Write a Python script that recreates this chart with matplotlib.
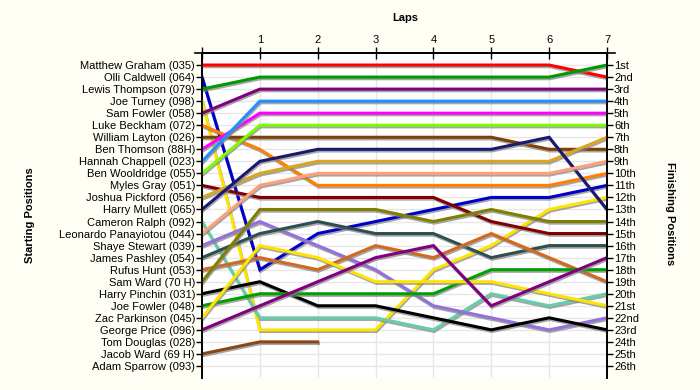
"""
Lap chart
=========
Race positions by lap, starting grid on the left, finishing order on the right.
"""

import matplotlib
matplotlib.use('Agg')
import matplotlib.pyplot as plt
import matplotlib.patheffects as pe

plt.rcParams['font.family'] = ['Liberation Sans', 'DejaVu Sans']
plt.rcParams['font.size'] = 8

###############################################################################
# Data: position of each driver at the end of each lap (lap 0 = grid)
laps = [0, 1, 2, 3, 4, 5, 6, 7]

drivers = ['Matthew Graham (035)', 'Olli Caldwell (064)', 'Lewis Thompson (079)',
           'Joe Turney (098)', 'Sam Fowler (058)', 'Luke Beckham (072)',
           'William Layton (026)', 'Ben Thomson (88H)', 'Hannah Chappell (023)',
           'Ben Wooldridge (055)', 'Myles Gray (051)', 'Joshua Pickford (056)',
           'Harry Mullett (065)', 'Cameron Ralph (092)', 'Leonardo Panayiotou (044)',
           'Shaye Stewart (039)', 'James Pashley (054)', 'Rufus Hunt (053)',
           'Sam Ward (70 H)', 'Harry Pinchin (031)', 'Joe Fowler (048)',
           'Zac Parkinson (045)', 'George Price (096)', 'Tom Douglas (028)',
           'Jacob Ward (69 H)', 'Adam Sparrow (093)']

positions = [
    [1, 1, 1, 1, 1, 1, 1, 2],
    [2, 18, 15, 14, 13, 12, 12, 11],
    [3, 2, 2, 2, 2, 2, 2, 1],
    [4, 23, 23, 23, 18, 16, 13, 12],
    [5, 3, 3, 3, 3, 3, 3, 3],
    [6, 8, 11, 11, 11, 11, 11, 10],
    [7, 7, 7, 7, 7, 7, 8, 8],
    [8, 5, 5, 5, 5, 5, 5, 5],
    [9, 4, 4, 4, 4, 4, 4, 4],
    [10, 6, 6, 6, 6, 6, 6, 6],
    [11, 12, 12, 12, 12, 14, 15, 15],
    [12, 10, 9, 9, 9, 9, 9, 7],
    [13, 9, 8, 8, 8, 8, 7, 13],
    [14, 22, 22, 22, 23, 20, 21, 20],
    [15, 11, 10, 10, 10, 10, 10, 9],
    [16, 14, 16, 18, 21, 22, 23, 22],
    [17, 15, 14, 15, 15, 17, 16, 16],
    [18, 17, 18, 16, 17, 15, 17, 19],
    [19, 13, 13, 13, 14, 13, 14, 14],
    [20, 19, 21, 21, 22, 23, 22, 23],
    [21, 20, 20, 20, 20, 18, 18, 18],
    [22, 16, 17, 19, 19, 19, 20, 21],
    [23, 21, 19, 17, 16, 21, 19, 17],
    [],
    [25, 24, 24],
    [],
]

colors = ['#FF0000', '#0000CC', '#009A00', '#FFE400', '#800080', '#FF8000',
          '#804000', '#FF00FF', '#1E90FF', '#7CFC00', '#800000', '#DAA520',
          '#191970', '#66CDAA', '#FFA07A', '#9370DB', '#2F4F4F', '#D2691E',
          '#808000', '#000000', '#00A000', '#FFE400', '#800080', '#000000',
          '#8B4513', '#000000']

n = len(drivers)
finish_labels = []
for i in range(1, n + 1):
    suffix = 'th' if 10 <= i % 100 <= 20 else {1: 'st', 2: 'nd', 3: 'rd'}.get(i % 10, 'th')
    finish_labels.append('%d%s' % (i, suffix))

###############################################################################
# Plot
fig = plt.figure(figsize=(7, 3.9), dpi=100, facecolor='#FFFEF5')
ax = fig.add_axes([202 / 700, 1 - 378 / 390, 405 / 700, 325 / 390])
ax.set_facecolor('white')

shadow = [pe.SimpleLineShadow(offset=(0.6, -1.2), shadow_color='#808080', alpha=0.7),
          pe.Normal()]
for pos, col in zip(positions, colors):
    if pos:
        ax.plot(laps[:len(pos)], pos, color=col, lw=2.2, solid_joinstyle='miter',
                path_effects=shadow, zorder=3)

ax.set_xlim(0, 7)
ax.set_ylim(27, 0)

ax.xaxis.tick_top()
ax.set_xticks(laps)
ax.set_xticklabels([''] + [str(l) for l in laps[1:]])
ax.tick_params(axis='x', direction='inout', length=8, width=1, pad=2)

ax.set_yticks(range(1, n + 1))
ax.set_yticklabels(drivers)
ax.tick_params(axis='y', direction='out', length=4, width=1, pad=1)

ax2 = ax.twinx()
ax2.set_ylim(27, 0)
ax2.set_yticks(range(1, n + 1))
ax2.set_yticklabels(finish_labels)
ax2.tick_params(axis='y', direction='out', length=4, width=1, pad=1)

ax.grid(True, color='#E6E6E6', lw=1, zorder=0)
ax.set_axisbelow(True)
for a in (ax, ax2):
    a.spines['bottom'].set_visible(False)
    for s in ('top', 'left', 'right'):
        a.spines[s].set_linewidth(1.2)

# top axis line runs a little past the plot on both sides
ax.plot([-0.018, 1.02], [1, 1], color='black', lw=1.2, transform=ax.transAxes,
        clip_on=False)

fig.text(405 / 700, 1 - 18 / 390, 'Laps', ha='center', va='center', fontweight='bold')
fig.text(30 / 700, 1 - 215 / 390, 'Starting Positions', ha='center', va='center',
         rotation=90, fontweight='bold')
fig.text(670 / 700, 1 - 214 / 390, 'Finishing Positions', ha='center', va='center',
         rotation=270, fontweight='bold')

fig.savefig('out.png', dpi=100, facecolor=fig.get_facecolor())
